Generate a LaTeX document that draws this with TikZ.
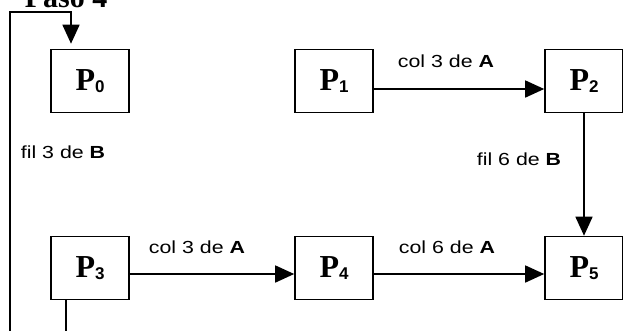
\documentclass[tikz,border=0pt]{standalone}
\usepackage{fontspec}
\setmainfont{Liberation Serif}
\newfontfamily\labfont{Liberation Sans}
\usetikzlibrary{arrows.meta}

\newcommand{\proc}[1]{\textbf{\fontsize{32}{34}\selectfont P}\raisebox{-1.5pt}{\labfont\bfseries\fontsize{17}{19}\selectfont #1}}
\newcommand{\lbl}[2]{\scalebox{1.22}[1]{\labfont\fontsize{17.5}{20}\selectfont #1 de \textbf{#2}}}

\tikzset{
  procbox/.style={draw, line width=1.6pt, minimum width=78pt, minimum height=63pt, inner sep=0pt},
  flow/.style={line width=1.6pt, -{Triangle[length=19pt,width=17pt]}},
  lab/.style={anchor=base, inner sep=0pt},
}

\begin{document}
\begin{tikzpicture}[x=1pt, y=-1pt]
  \useasboundingbox (0,0) rectangle (623,330);
  \clip (0,0) rectangle (623,330);

  % title, its upper part running past the top edge
  \node[anchor=base, inner sep=0pt] (title) at (66,7) {\textbf{\fontsize{30}{32}\selectfont Paso 4}};

  % processors
  \node[procbox] (p0) at (90,81)  {\proc{0}};
  \node[procbox] (p1) at (334,81) {\proc{1}};
  \node[procbox] (p2) at (584,81) {\proc{2}};
  \node[procbox] (p3) at (90,268) {\proc{3}};
  \node[procbox] (p4) at (334,268) {\proc{4}};
  \node[procbox] (p5) at (584,268) {\proc{5}};

  % transfers
  \draw[flow] ([yshift=-8pt]p1.east) -- ([yshift=-8pt]p2.west);
  \draw[flow] (p2.south) -- (p5.north);
  \draw[flow] ([yshift=-6pt]p3.east) -- ([yshift=-6pt]p4.west);
  \draw[flow] ([yshift=-6pt]p4.east) -- ([yshift=-6pt]p5.west);
  \draw[flow, shorten >=5pt] ([xshift=-24pt]p3.south) -- ++(0,60) -| (10,12) -| ([xshift=-19pt]p0.north);

  % labels
  \node[lab] (l12) at (446,67)  {\lbl{col 3}{A}};
  \node[lab] (l25) at (519,165) {\lbl{fil 6}{B}};
  \node[lab] (l30) at (63,158)  {\lbl{fil 3}{B}};
  \node[lab] (l34) at (197,253) {\lbl{col 3}{A}};
  \node[lab] (l45) at (447,253) {\lbl{col 6}{A}};
\end{tikzpicture}
\end{document}
